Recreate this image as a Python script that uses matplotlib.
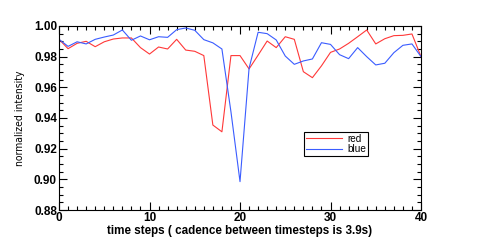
import matplotlib
matplotlib.use('Agg')
import matplotlib.pyplot as plt
from matplotlib.ticker import MultipleLocator
import numpy as np

# normalized intensity per time step
steps = np.arange(41)
red = [0.9913, 0.9852, 0.9887, 0.9900, 0.9865, 0.9897, 0.9915, 0.9922, 0.9922, 0.9859,
       0.9817, 0.9863, 0.9850, 0.9913, 0.9843, 0.9835, 0.9807, 0.9354, 0.9310, 0.9807,
       0.9807, 0.9720, 0.9810, 0.9902, 0.9859, 0.9930, 0.9913, 0.9702, 0.9663, 0.9740,
       0.9828, 0.9850, 0.9887, 0.9930, 0.9974, 0.9883, 0.9917, 0.9937, 0.9939, 0.9948,
       0.9800]
blue = [0.9913, 0.9867, 0.9897, 0.9883, 0.9913, 0.9928, 0.9941, 0.9974, 0.9907, 0.9935,
        0.9910, 0.9930, 0.9926, 0.9976, 0.9987, 0.9972, 0.9911, 0.9890, 0.9850, 0.9440,
        0.8985, 0.9724, 0.9959, 0.9950, 0.9909, 0.9804, 0.9750, 0.9772, 0.9785, 0.9891,
        0.9880, 0.9813, 0.9787, 0.9859, 0.9800, 0.9746, 0.9757, 0.9826, 0.9874, 0.9883,
        0.9800]

plt.rcParams['font.family'] = ['Liberation Sans', 'DejaVu Sans']

fig = plt.figure(figsize=(4.98, 2.42), dpi=100)
ax = fig.add_axes([0.1185, 0.1322, 0.7269, 0.7604])
ax.plot(steps, red, color='#ff3838', lw=0.8, label='red')
ax.plot(steps, blue, color='#3a5cff', lw=0.8, label='blue')

ax.set_xlim(0, 40)
ax.set_ylim(0.88, 1.00)
ax.xaxis.set_major_locator(MultipleLocator(10))
ax.xaxis.set_minor_locator(MultipleLocator(1))
ax.yaxis.set_major_locator(MultipleLocator(0.02))
ax.yaxis.set_minor_locator(MultipleLocator(0.005))
ax.yaxis.set_major_formatter(plt.FormatStrFormatter('%.2f'))
ax.tick_params(which='both', direction='in', top=True, right=True, width=0.8)
ax.tick_params(which='major', length=6, labelsize=8.5, pad=1.5)
ax.tick_params(which='minor', length=3)
for lab in ax.get_xticklabels() + ax.get_yticklabels():
    lab.set_fontweight('bold')
for s in ax.spines.values():
    s.set_linewidth(0.8)

ax.set_xlabel('time steps ( cadence between timesteps is 3.9s)', fontsize=8.4,
              fontweight='bold', labelpad=0.5)
ax.set_ylabel('normalized intensity', fontsize=7.5, family='DejaVu Sans',
              fontstretch='condensed', labelpad=6)

leg = ax.legend(loc='upper left', bbox_to_anchor=(0.677, 0.424), fontsize=7.2,
                fancybox=False, framealpha=1, edgecolor='black', handlelength=3.6,
                borderpad=0.2, labelspacing=0.05, handletextpad=0.5, borderaxespad=0)
leg.get_frame().set_linewidth(0.8)

fig.savefig('out.png', dpi=100)
